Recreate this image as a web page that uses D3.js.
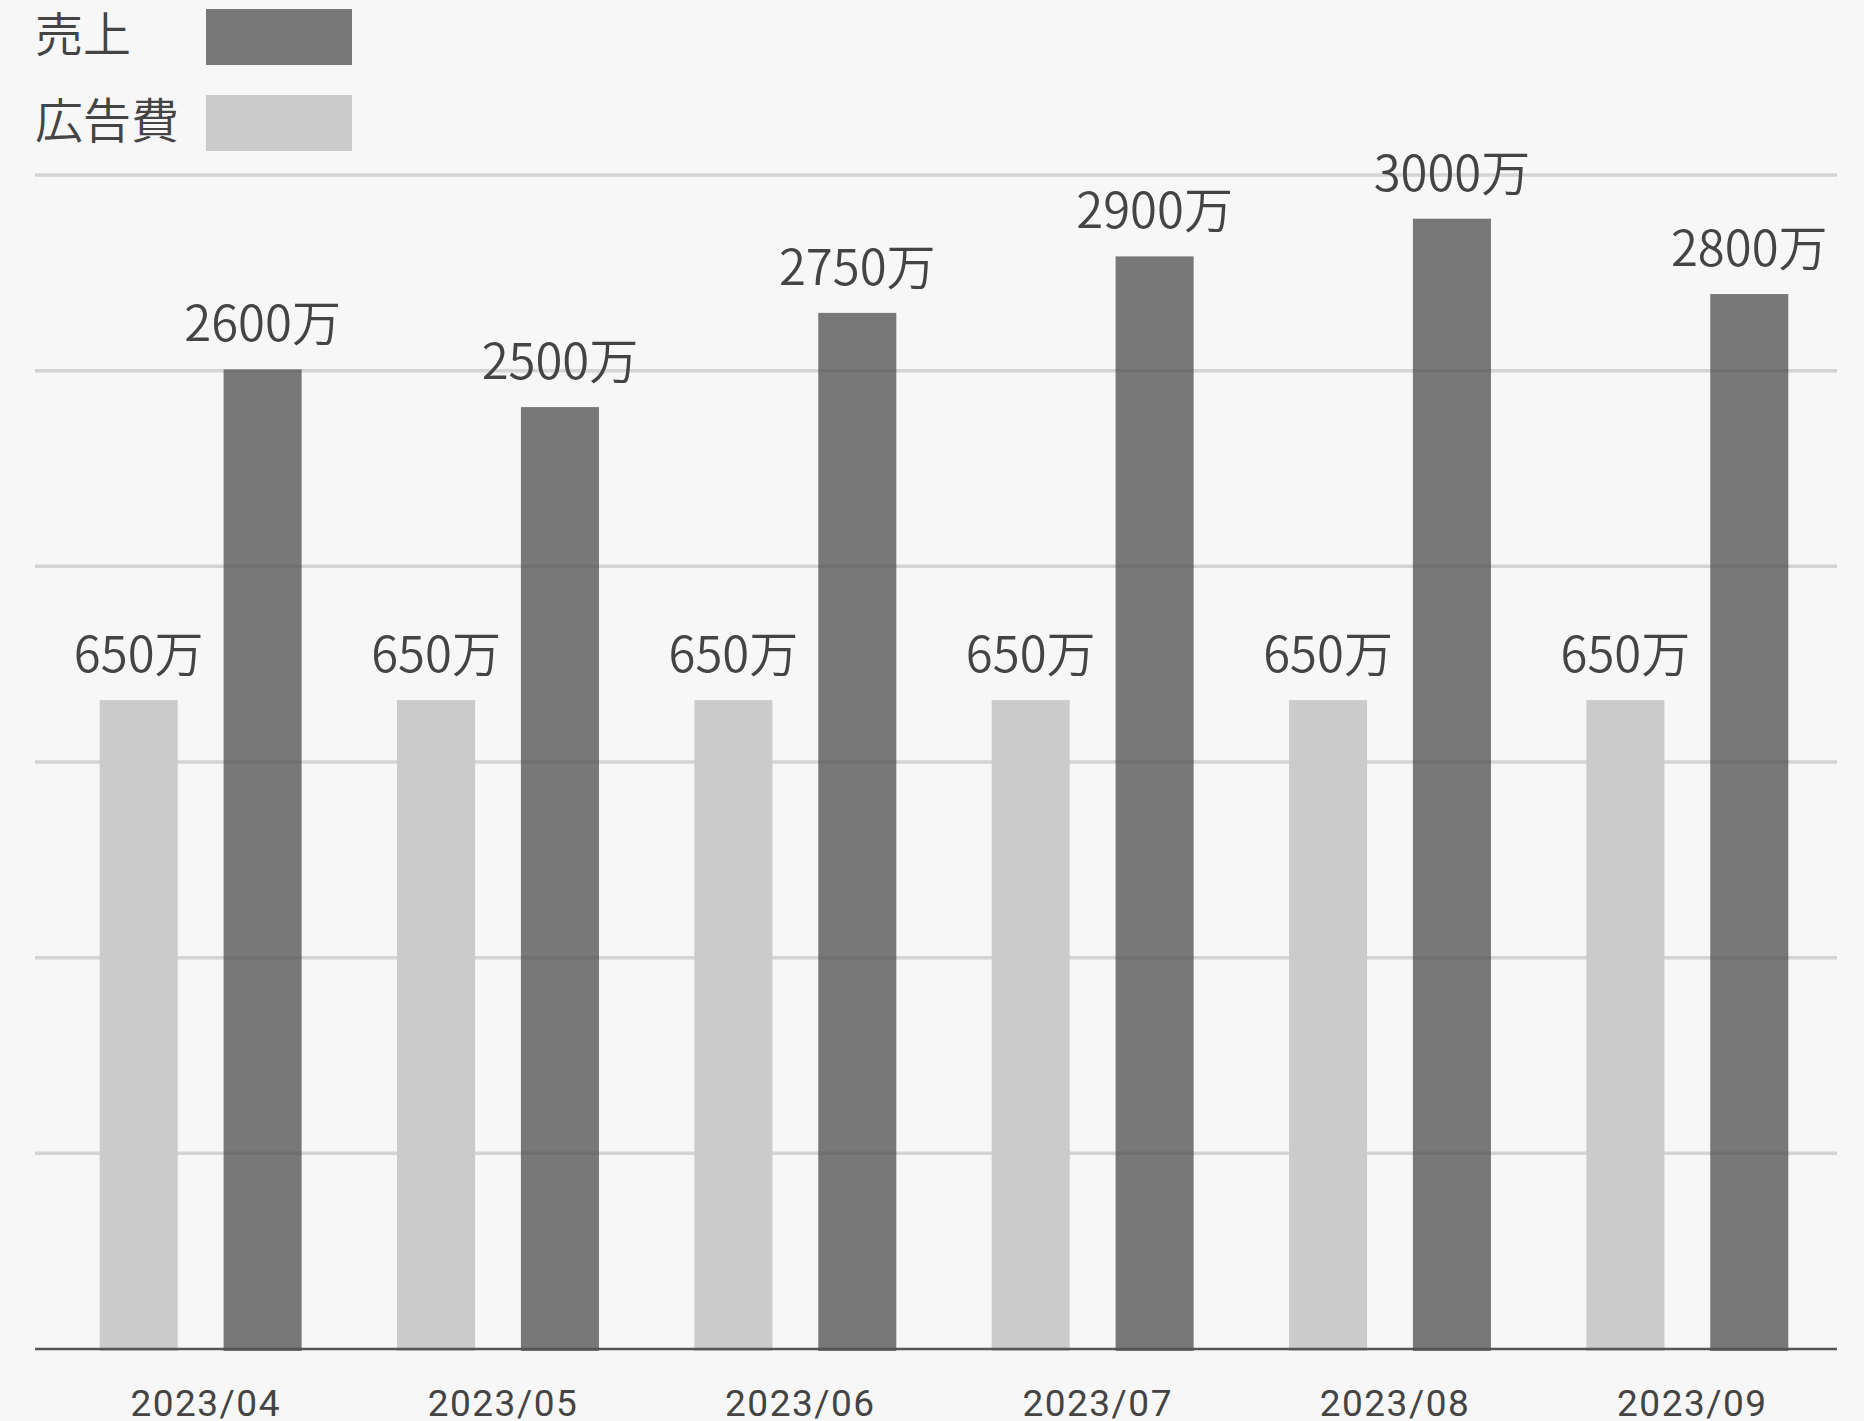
<!DOCTYPE html>
<html>
<head>
<meta charset="utf-8">
<script src="https://cdn.jsdelivr.net/npm/d3@7"></script>
<style>
  html, body { margin: 0; padding: 0; background: #f7f7f7; }
  svg { display: block; }
  .lbl { font-family: "Noto Sans CJK JP", "Noto Sans", sans-serif; fill: #444; font-weight: 350; }
  .tick-lbl { font-family: Roboto, "Noto Sans", sans-serif; fill: #444; }
</style>
</head>
<body>
<svg width="1864" height="1421"></svg>
<script>
var months = ["2023/04", "2023/05", "2023/06", "2023/07", "2023/08", "2023/09"];
var sales = [2600, 2500, 2750, 2900, 3000, 2800];   // 売上 (万)
var adCost = [650, 650, 650, 650, 650, 650];        // 広告費 (万)
var seriesNames = ["広告費", "売上"];
var salesMax = 3116;
var adMax = 1176;
var gridCount = 6;

var svg = d3.select("svg");
var width = 1864, height = 1421;
var plotLeft = 35, plotRight = 1837, plotTop = 175, plotBottom = 1349;

svg.append("rect").attr("width", width).attr("height", height).attr("fill", "#f7f7f7");

var color = d3.scaleOrdinal().domain(seriesNames).range(["#cbcbcb", "#4b4b4b"]);

var x0 = d3.scaleBand().domain(months).range([52, 1836]);
var x1 = d3.scaleBand().domain(seriesNames).range([0, x0.bandwidth()])
    .paddingInner(0.37).paddingOuter(0.385);

var ySales = d3.scaleLinear().domain([0, salesMax]).range([plotBottom, plotTop]);
var yAd = d3.scaleLinear().domain([0, adMax]).range([plotBottom, plotTop]);

// grid
svg.append("g")
  .selectAll("line")
  .data(d3.range(1, gridCount + 1).map(function(k) { return salesMax * k / gridCount; }))
  .enter().append("line")
    .attr("x1", plotLeft).attr("x2", plotRight)
    .attr("y1", function(d) { return ySales(d); })
    .attr("y2", function(d) { return ySales(d); })
    .attr("stroke", "#d4d4d4")
    .attr("stroke-width", 3.5);

var rows = months.map(function(m, i) {
  return [
    { month: m, key: "広告費", value: adCost[i], y: yAd },
    { month: m, key: "売上", value: sales[i], y: ySales }
  ];
});

var group = svg.append("g").selectAll("g")
  .data(rows)
  .enter().append("g")
    .attr("transform", function(d) { return "translate(" + x0(d[0].month) + ",0)"; });

group.selectAll("rect")
  .data(function(d) { return d; })
  .enter().append("rect")
    .attr("x", function(d) { return x1(d.key); })
    .attr("width", x1.bandwidth())
    .attr("y", function(d) { return d.y(d.value); })
    .attr("height", function(d) { return plotBottom + 2 - d.y(d.value); })
    .attr("fill", function(d) { return color(d.key); })
    .attr("fill-opacity", function(d) { return d.key == "売上" ? 0.74 : 1; });

group.selectAll("text")
  .data(function(d) { return d; })
  .enter().append("text")
    .attr("class", "lbl")
    .attr("x", function(d) { return x1(d.key) + x1.bandwidth() / 2; })
    .attr("y", function(d) { return d.y(d.value) - 28; })
    .attr("text-anchor", "middle")
    .attr("font-size", 49)
    .text(function(d) { return d.value + "万"; });

// baseline
svg.append("line")
  .attr("x1", plotLeft).attr("x2", plotRight)
  .attr("y1", plotBottom).attr("y2", plotBottom)
  .attr("stroke", "#555").attr("stroke-width", 2.5);

// x labels
svg.append("g").selectAll("text")
  .data(months)
  .enter().append("text")
    .attr("class", "tick-lbl")
    .attr("x", function(d) { return x0(d) + x0.bandwidth() / 2 + 5; })
    .attr("y", 1416)
    .attr("text-anchor", "middle")
    .attr("font-size", 37)
    .attr("letter-spacing", 1.5)
    .text(function(d) { return d; });

// legend
var legend = [
  { name: "売上", y: 9 },
  { name: "広告費", y: 95 }
];
var lg = svg.append("g").selectAll("g").data(legend).enter().append("g");
lg.append("text")
  .attr("class", "lbl")
  .attr("x", 35)
  .attr("y", function(d) { return d.y + 43; })
  .attr("font-size", 48)
  .text(function(d) { return d.name; });
lg.append("rect")
  .attr("x", 206).attr("width", 146)
  .attr("y", function(d) { return d.y; }).attr("height", 56)
  .attr("fill", function(d) { return color(d.name); })
  .attr("fill-opacity", function(d) { return d.name == "売上" ? 0.74 : 1; });
</script>
</body>
</html>
